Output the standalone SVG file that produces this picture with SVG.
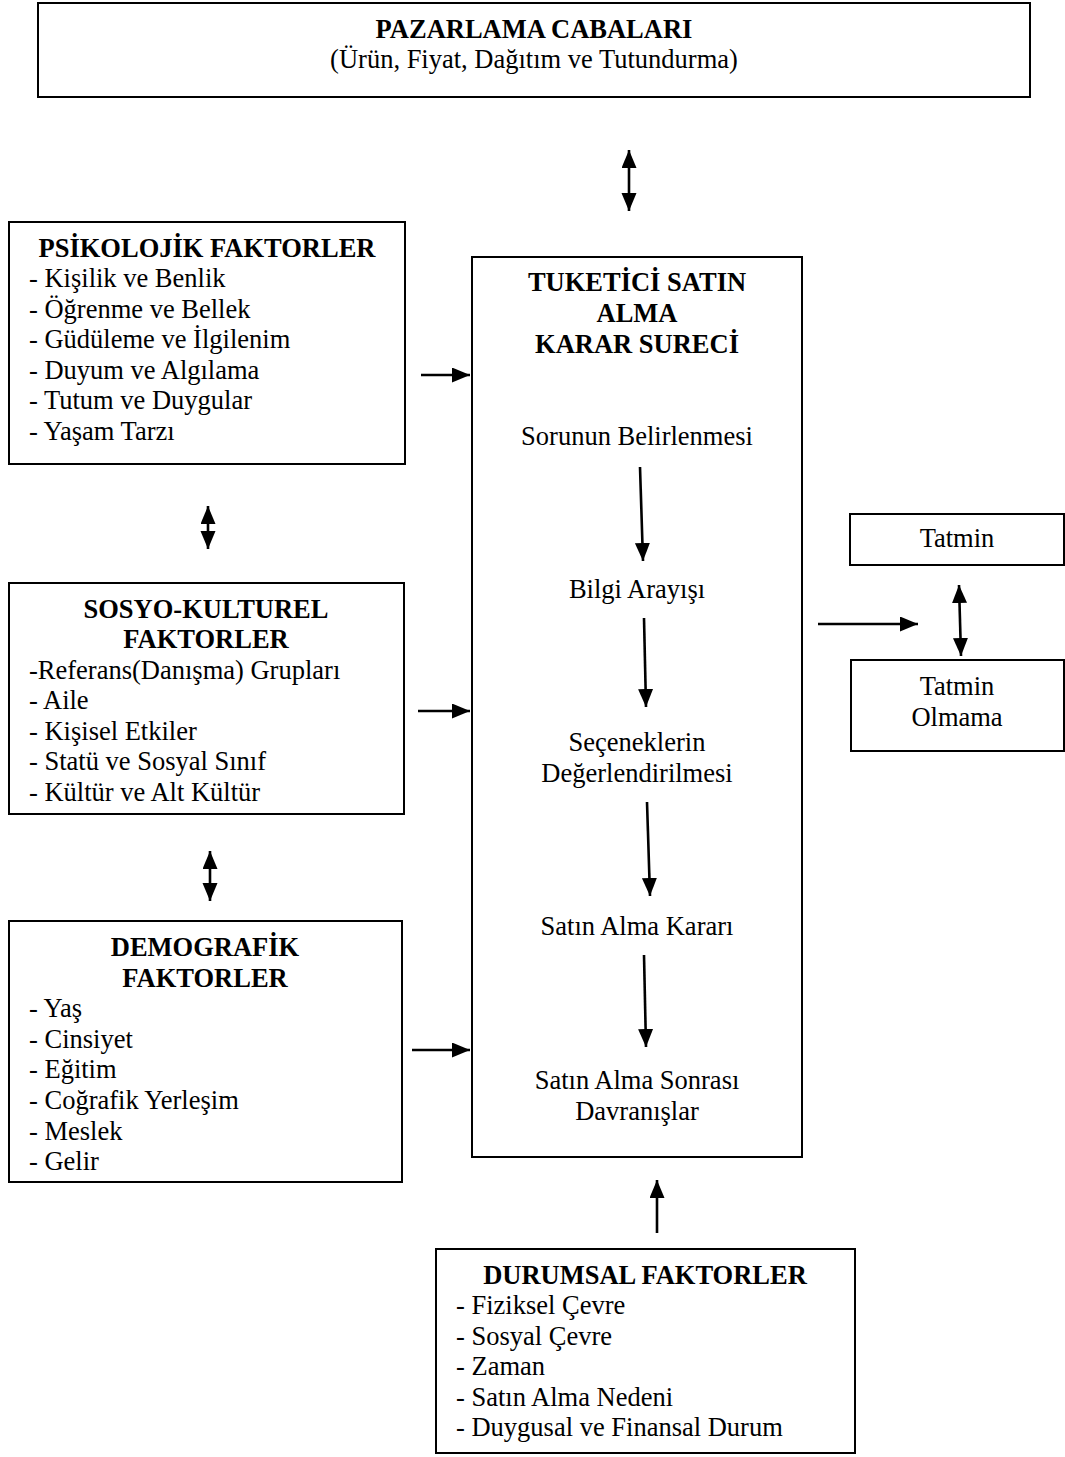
<svg xmlns="http://www.w3.org/2000/svg" width="1065" height="1457" viewBox="0 0 1065 1457">
  <style>
    .box { fill: #fff; stroke: #000; stroke-width: 2; }
    text { font-family: "Liberation Serif", "Times New Roman", serif; font-size: 26.5px; fill: #000; }
    .t { font-weight: bold; text-anchor: middle; }
    .c { text-anchor: middle; }
    .arr { stroke: #000; stroke-width: 2.6; fill: none; marker-end: url(#head); }
    .dbl { stroke: #000; stroke-width: 2.6; fill: none; marker-start: url(#head); marker-end: url(#head); }
  </style>
  <defs>
    <marker id="head" markerUnits="userSpaceOnUse" markerWidth="20" markerHeight="16" refX="18" refY="7.5" orient="auto-start-reverse" viewBox="0 0 20 16">
      <path d="M0,0 L18,7.5 L0,15 z" fill="#000"/>
    </marker>
  </defs>
  <rect width="1065" height="1457" fill="#fff"/>

  <g id="pazarlama">
    <rect class="box" x="38" y="3" width="992" height="94"/>
    <text class="t" x="534" y="38">PAZARLAMA CABALARI</text>
    <text class="c" x="534" y="68">(Ürün, Fiyat, Dağıtım ve Tutundurma)</text>
  </g>

  <g id="psikolojik">
    <rect class="box" x="9" y="222" width="396" height="242"/>
    <text class="t" x="207" y="257">PSİKOLOJİK FAKTORLER</text>
    <text x="29" y="287">- Kişilik ve Benlik</text>
    <text x="29" y="318">- Öğrenme ve Bellek</text>
    <text x="29" y="348">- Güdüleme ve İlgilenim</text>
    <text x="29" y="379">- Duyum ve Algılama</text>
    <text x="29" y="409">- Tutum ve Duygular</text>
    <text x="29" y="440">- Yaşam Tarzı</text>
  </g>

  <g id="sosyo">
    <rect class="box" x="9" y="583" width="395" height="231"/>
    <text class="t" x="206" y="618">SOSYO-KULTUREL</text>
    <text class="t" x="206" y="648">FAKTORLER</text>
    <text x="29" y="679">-Referans(Danışma) Grupları</text>
    <text x="29" y="709">- Aile</text>
    <text x="29" y="740">- Kişisel Etkiler</text>
    <text x="29" y="770">- Statü ve Sosyal Sınıf</text>
    <text x="29" y="801">- Kültür ve Alt Kültür</text>
  </g>

  <g id="demografik">
    <rect class="box" x="9" y="921" width="393" height="261"/>
    <text class="t" x="205" y="956">DEMOGRAFİK</text>
    <text class="t" x="205" y="987">FAKTORLER</text>
    <text x="29" y="1017">- Yaş</text>
    <text x="29" y="1048">- Cinsiyet</text>
    <text x="29" y="1078">- Eğitim</text>
    <text x="29" y="1109">- Coğrafik Yerleşim</text>
    <text x="29" y="1140">- Meslek</text>
    <text x="29" y="1170">- Gelir</text>
  </g>

  <g id="karar-sureci">
    <rect class="box" x="472" y="257" width="330" height="900"/>
    <text class="t" x="637" y="291">TUKETİCİ SATIN</text>
    <text class="t" x="637" y="322">ALMA</text>
    <text class="t" x="637" y="353">KARAR SURECİ</text>
    <text class="c" x="637" y="445">Sorunun Belirlenmesi</text>
    <text class="c" x="637" y="598">Bilgi Arayışı</text>
    <text class="c" x="637" y="751">Seçeneklerin</text>
    <text class="c" x="637" y="782">Değerlendirilmesi</text>
    <text class="c" x="637" y="935">Satın Alma Kararı</text>
    <text class="c" x="637" y="1089">Satın Alma Sonrası</text>
    <text class="c" x="637" y="1120">Davranışlar</text>
  </g>

  <g id="tatmin">
    <rect class="box" x="850" y="514" width="214" height="51"/>
    <text class="c" x="957" y="547">Tatmin</text>
  </g>

  <g id="tatmin-olmama">
    <rect class="box" x="851" y="660" width="213" height="91"/>
    <text class="c" x="957" y="695">Tatmin</text>
    <text class="c" x="957" y="726">Olmama</text>
  </g>

  <g id="durumsal">
    <rect class="box" x="436" y="1249" width="419" height="204"/>
    <text class="t" x="645" y="1284">DURUMSAL FAKTORLER</text>
    <text x="456" y="1314">- Fiziksel Çevre</text>
    <text x="456" y="1345">- Sosyal Çevre</text>
    <text x="456" y="1375">- Zaman</text>
    <text x="456" y="1406">- Satın Alma Nedeni</text>
    <text x="456" y="1436">- Duygusal ve Finansal Durum</text>
  </g>

  <g id="connectors">
    <line class="dbl" x1="629" y1="150" x2="629" y2="211"/>
    <line class="arr" x1="421" y1="375" x2="470" y2="375"/>
    <line class="dbl" x1="208" y1="506" x2="208" y2="549"/>
    <line class="arr" x1="418" y1="711" x2="470" y2="711"/>
    <line class="dbl" x1="210" y1="851" x2="210" y2="901"/>
    <line class="arr" x1="412" y1="1050" x2="470" y2="1050"/>
    <line class="arr" x1="640" y1="467" x2="643" y2="561"/>
    <line class="arr" x1="644" y1="618" x2="646" y2="707"/>
    <line class="arr" x1="647" y1="802" x2="650" y2="896"/>
    <line class="arr" x1="644" y1="955" x2="646" y2="1047"/>
    <line class="arr" x1="657" y1="1233" x2="657" y2="1180"/>
    <line class="arr" x1="818" y1="624" x2="918" y2="624"/>
    <line class="dbl" x1="959" y1="585" x2="961" y2="656"/>
  </g>
</svg>
